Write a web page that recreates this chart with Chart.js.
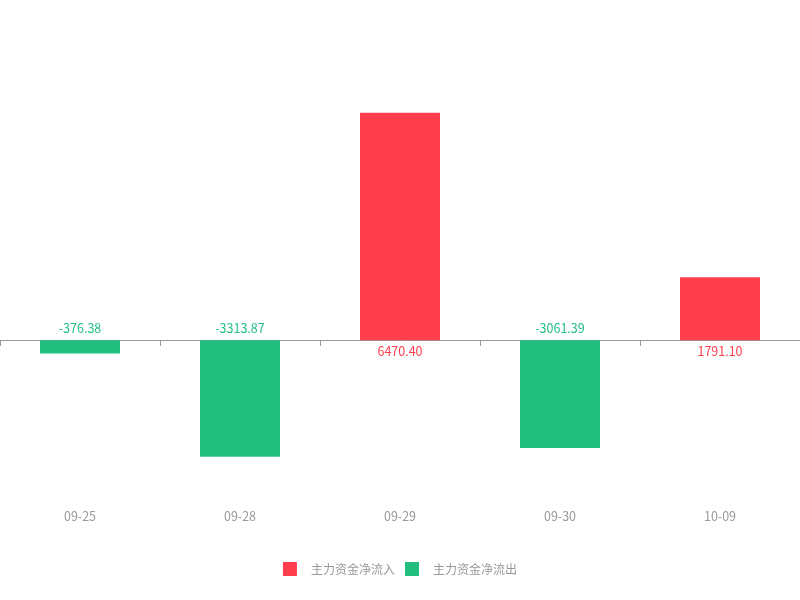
<!DOCTYPE html>
<html lang="zh">
  <head>
  <meta charset="utf-8">
  <title>主力资金</title>
  <script src="https://cdn.jsdelivr.net/npm/chart.js@4.4.0/dist/chart.umd.min.js"></script>
  <style>
    html, body{ margin:0; padding:0; background:#fff; }
    #wrap{ width:800px; height:600px; }
  </style>
  </head>
  <body>
    <div id="wrap"><canvas id="myChart" width="800" height="600"></canvas></div>
  </body>
  <script>
    // データ
    const dates = ["09-25","09-28","09-29","09-30","10-09"];
    const netFlow = [-376.38, -3313.87, 6470.40, -3061.39, 1791.10];
    const seriesNames = ["主力资金净流入","主力资金净流出"];

    const RED = "#ff3e4d";
    const GREEN = "#21be80";
    const FONT = "'Noto Sans CJK SC', 'Noto Sans', sans-serif";

    const inflow = netFlow.map(v => v >= 0 ? v : null);
    const outflow = netFlow.map(v => v < 0 ? v : null);

    // バーの数値ラベル
    const valueLabels = {
      id: "valueLabels",
      afterDatasetsDraw(chart){
        const ctx = chart.ctx;
        ctx.save();
        ctx.font = "12.5px " + FONT;
        ctx.textAlign = "center";
        ctx.textBaseline = "middle";
        chart.data.datasets.forEach((ds, i) => {
          const meta = chart.getDatasetMeta(i);
          meta.data.forEach((bar, j) => {
            const v = ds.data[j];
            if(v === null) return;
            ctx.fillStyle = ds.backgroundColor;
            const y = v < 0 ? bar.base - 12 : bar.base + 11;
            ctx.fillText(v.toFixed(2), bar.x, y);
          });
        });
        ctx.restore();
      }
    };

    new Chart(document.getElementById("myChart"), {
      type: "bar",
      data: {
        labels: dates,
        datasets: [
          { label: seriesNames[0], data: inflow, backgroundColor: RED, borderWidth: 0 },
          { label: seriesNames[1], data: outflow, backgroundColor: GREEN, borderWidth: 0 }
        ]
      },
      options: {
        responsive: false,
        animation: false,
        layout: { padding: { top: 59, left: 0, right: 0, bottom: 14 } },
        datasets: { bar: { categoryPercentage: 1, barPercentage: 0.5 } },
        plugins: {
          tooltip: { enabled: false },
          legend: {
            position: "bottom",
            labels: {
              boxWidth: 14,
              boxHeight: 14,
              padding: 10,
              color: "#999",
              font: { family: FONT, size: 12 },
              generateLabels(chart){
                return chart.data.datasets.map((ds, i) => ({
                  text: "   " + ds.label,
                  fillStyle: ds.backgroundColor,
                  strokeStyle: ds.backgroundColor,
                  lineWidth: 0,
                  hidden: false,
                  datasetIndex: i,
                  fontColor: "#999"
                }));
              }
            }
          }
        },
        scales: {
          x: {
            stacked: true,
            grid: { display: false },
            border: { display: false },
            ticks: { color: "#999", padding: 20, font: { family: FONT, size: 12.5 } },
            afterFit(scale){ scale.height += 8; }
          },
          xz: {
            type: "category",
            labels: dates,
            position: { y: 0 },
            grid: { offset: true, drawOnChartArea: false, drawTicks: true, tickLength: 5, color: "#999" },
            border: { display: true, color: "#999", width: 1 },
            ticks: { display: false }
          },
          y: {
            stacked: true,
            display: false,
            min: -4000,
            max: 8000
          }
        }
      },
      plugins: [valueLabels]
    });
  </script>
</html>
